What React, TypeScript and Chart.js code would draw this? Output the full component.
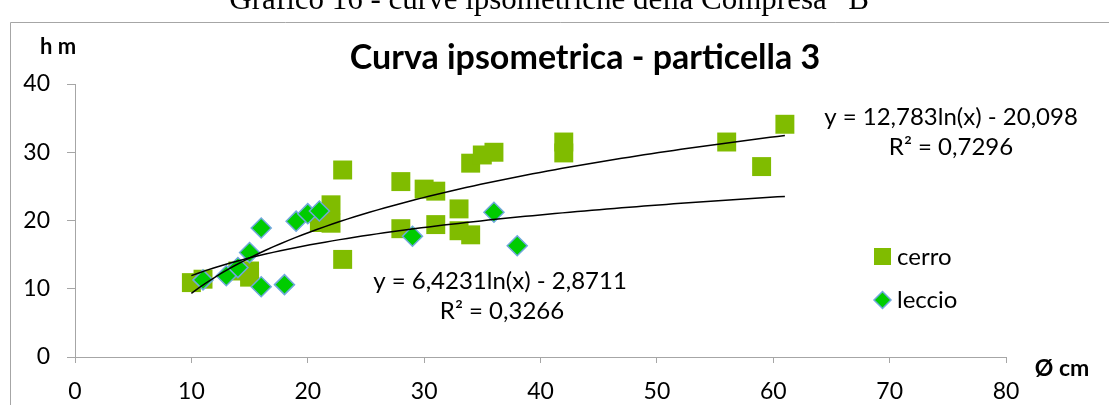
import React, { useEffect, useRef } from "react";
import { Chart, registerables } from "chart.js";

Chart.register(...registerables);

// ---- data ----
const cerroX = [10, 11, 14, 15, 15, 21, 22, 22, 23, 23, 28, 28, 30, 31, 31, 33, 33, 34, 34, 35, 36, 42, 42, 56, 59, 61];
const cerroY = [10.9, 11.4, 12.6, 12.6, 11.7, 19.7, 22.3, 19.6, 27.4, 14.3, 25.7, 18.8, 24.6, 24.3, 19.4, 21.7, 18.5, 17.9, 28.4, 29.6, 30.0, 31.5, 29.9, 31.5, 27.9, 34.1];
const leccioX = [11, 13, 14, 15, 16, 16, 18, 19, 20, 21, 29, 36, 38];
const leccioY = [11.3, 11.9, 13.1, 15.3, 18.9, 10.3, 10.6, 19.9, 21.0, 21.4, 17.7, 21.2, 16.3];

const seriesNames = ["cerro", "leccio"];
const xTicks = [0, 10, 20, 30, 40, 50, 60, 70, 80];
const yTicks = [0, 10, 20, 30, 40];

// logarithmic trendlines y = a ln(x) + b, as printed on the chart
const trendA = [12.783, 6.4231];
const trendB = [-20.098, -2.8711];
const trendRange = [10, 61];
const trendEq = ["y = 12,783ln(x) - 20,098", "y = 6,4231ln(x) - 2,8711"];
const trendR2 = ["R² = 0,7296", "R² = 0,3266"];

const caption = "Grafico 16 - curve ipsometriche della Compresa \u201CB\u201D";
const chartTitle = "Curva ipsometrica - particella 3";
const yTitle = "h m";
const xTitle = "Ø cm";

const CERRO = "#80BC00";
const LECCIO = "#00CC00";
const LECCIO_BORDER = "#6FA8DC";
const AXIS = "#A6A6A6";
const FONT = "Lato, 'Open Sans', sans-serif";

function trendPoints(i: number) {
  const pts: { x: number; y: number }[] = [];
  const steps = 80;
  for (let k = 0; k <= steps; k++) {
    const x = trendRange[0] + ((trendRange[1] - trendRange[0]) * k) / steps;
    pts.push({ x, y: trendA[i] * Math.log(x) + trendB[i] });
  }
  return pts;
}

const overlay = {
  id: "overlay",
  beforeDraw(chart: any) {
    const ctx = chart.ctx;
    ctx.save();
    ctx.fillStyle = "#ffffff";
    ctx.fillRect(0, 0, chart.width, chart.height);
    // frame
    ctx.strokeStyle = AXIS;
    ctx.lineWidth = 1;
    ctx.beginPath();
    ctx.moveTo(10.5, chart.height + 2);
    ctx.lineTo(10.5, 22.5);
    ctx.lineTo(chart.width + 2, 22.5);
    ctx.stroke();
    // caption (cut at the top)
    ctx.fillStyle = "#000";
    ctx.font = "31px 'Liberation Serif', 'Times New Roman', serif";
    ctx.textAlign = "center";
    ctx.textBaseline = "alphabetic";
    ctx.fillText(caption, 556, 9);
    ctx.restore();
  },
  afterDraw(chart: any) {
    const ctx = chart.ctx;
    ctx.save();
    ctx.fillStyle = "#000";
    ctx.textBaseline = "middle";
    ctx.textAlign = "center";
    ctx.font = `bold 34px ${FONT}`;
    ctx.fillText(chartTitle, 585, 58);
    ctx.font = `bold 22px ${FONT}`;
    ctx.fillText(yTitle, 58, 47);
    ctx.font = `bold 23px ${FONT}`;
    ctx.fillText(xTitle, 1062, 369);
    // equations
    ctx.font = `24px ${FONT}`;
    ctx.fillText(trendEq[0], 951, 117);
    ctx.fillText(trendR2[0], 951, 147);
    ctx.fillText(trendEq[1], 500, 281);
    ctx.fillText(trendR2[1], 502, 311);
    // legend
    ctx.fillStyle = CERRO;
    ctx.fillRect(874, 248, 17, 17);
    ctx.beginPath();
    ctx.moveTo(874, 300);
    ctx.lineTo(882.5, 291.5);
    ctx.lineTo(891, 300);
    ctx.lineTo(882.5, 308.5);
    ctx.closePath();
    ctx.fillStyle = LECCIO;
    ctx.fill();
    ctx.strokeStyle = LECCIO_BORDER;
    ctx.lineWidth = 1.5;
    ctx.stroke();
    ctx.fillStyle = "#000";
    ctx.textAlign = "left";
    ctx.font = `24px ${FONT}`;
    ctx.fillText(seriesNames[0], 897, 257);
    ctx.fillText(seriesNames[1], 897, 300);
    ctx.restore();
  },
};

export default function App() {
  const ref = useRef<HTMLCanvasElement | null>(null);
  useEffect(() => {
    if (!ref.current) return;
    const chart = new Chart(ref.current, {
      type: "scatter",
      data: {
        datasets: [
          {
            label: "trend cerro",
            type: "line",
            data: trendPoints(0),
            borderColor: "#000",
            borderWidth: 1.5,
            pointRadius: 0,
            fill: false,
            order: 0,
          } as any,
          {
            label: "trend leccio",
            type: "line",
            data: trendPoints(1),
            borderColor: "#000",
            borderWidth: 1.5,
            pointRadius: 0,
            fill: false,
            order: 0,
          } as any,
          {
            label: seriesNames[1],
            data: leccioX.map((x, i) => ({ x, y: leccioY[i] })),
            pointStyle: "rectRot",
            pointRadius: 10,
            backgroundColor: LECCIO,
            borderColor: LECCIO_BORDER,
            borderWidth: 1.5,
            order: 1,
          },
          {
            label: seriesNames[0],
            data: cerroX.map((x, i) => ({ x, y: cerroY[i] })),
            pointStyle: "rect",
            pointRadius: 13.4,
            backgroundColor: CERRO,
            borderWidth: 0,
            order: 2,
          },
        ],
      },
      options: {
        animation: false,
        responsive: false,
        layout: { padding: { left: 0, right: 103, top: 84, bottom: 0 } },
        plugins: {
          legend: { display: false },
          tooltip: { enabled: false },
          title: { display: false },
        },
        scales: {
          x: {
            type: "linear",
            min: xTicks[0],
            max: xTicks[xTicks.length - 1],
            afterBuildTicks: (s: any) => {
              s.ticks = xTicks.map((v) => ({ value: v }));
            },
            afterFit: (s: any) => {
              s.height = 48;
            },
            grid: { drawOnChartArea: false, drawTicks: true, tickLength: 6, color: AXIS },
            border: { color: AXIS, width: 1 },
            ticks: { color: "#000", font: { family: FONT, size: 23 }, padding: 15, maxRotation: 0 },
          },
          y: {
            type: "linear",
            min: yTicks[0],
            max: yTicks[yTicks.length - 1],
            afterBuildTicks: (s: any) => {
              s.ticks = yTicks.map((v) => ({ value: v }));
            },
            afterFit: (s: any) => {
              s.width = 75;
            },
            grid: { drawOnChartArea: false, drawTicks: true, tickLength: 8, color: AXIS },
            border: { color: AXIS, width: 1 },
            ticks: { color: "#000", font: { family: FONT, size: 23 }, padding: 17 },
          },
        },
      },
      plugins: [overlay],
    });
    return () => chart.destroy();
  }, []);
  return (
    <div style={{ position: "absolute", left: 0, top: 0, width: 1109, height: 405, background: "#fff" }}>
      <canvas ref={ref} width={1109} height={405} style={{ display: "block", width: 1109, height: 405 }} />
    </div>
  );
}
